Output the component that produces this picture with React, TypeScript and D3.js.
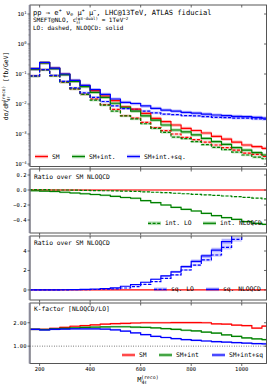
import React from 'react'
import * as d3 from 'd3'

const W = 272
const H = 388
const FONT = "'DejaVu Sans Mono', monospace"

// M4l bin edges (GeV)
const binEdges = [160, 200, 240, 280, 320, 360, 400, 440, 480, 520, 560, 600, 640, 680, 720, 760, 800, 840, 880, 920, 960, 1000, 1040, 1080, 1120]

// dsigma/dM [fb/GeV], NLOQCD (solid)
const smNLO = [0.148, 0.24, 0.155, 0.097, 0.059, 0.04, 0.028, 0.0185, 0.0129, 0.0081, 0.0067, 0.0049, 0.0033, 0.0026, 0.002, 0.00155, 0.00131, 0.00108, 0.00083, 0.00068, 0.00054, 0.00043, 0.00038, 0.00033]
const smIntNLO = [0.146, 0.236, 0.152, 0.095, 0.057, 0.0378, 0.0245, 0.0167, 0.0106, 0.0078, 0.0058, 0.004, 0.0029, 0.002, 0.00136, 0.00117, 0.00093, 0.00071, 0.00056, 0.00045, 0.00035, 0.00029, 0.00024, 0.0002]
const smIntSqNLO = [0.15, 0.242, 0.158, 0.1, 0.061, 0.042, 0.03, 0.021, 0.0147, 0.0114, 0.0104, 0.0086, 0.0072, 0.0063, 0.0058, 0.0053, 0.005, 0.0046, 0.0043, 0.0041, 0.0039, 0.0038, 0.0036, 0.0034]

// LO (dashed)
const smLO = [0.086, 0.14, 0.088, 0.054, 0.032, 0.021, 0.0147, 0.0095, 0.0066, 0.0041, 0.0034, 0.00245, 0.00165, 0.0013, 0.001, 0.00077, 0.00065, 0.00054, 0.00043, 0.00035, 0.00029, 0.00023, 0.00021, 0.00018]
const smIntLO = [0.085, 0.138, 0.087, 0.054, 0.032, 0.021, 0.0135, 0.0092, 0.0058, 0.004, 0.0032, 0.0022, 0.00155, 0.00114, 0.00079, 0.0007, 0.00056, 0.00044, 0.00036, 0.0003, 0.00025, 0.0002, 0.00017, 0.00015]
const smIntSqLO = [0.087, 0.141, 0.09, 0.057, 0.0345, 0.0236, 0.0167, 0.0121, 0.0086, 0.007, 0.0066, 0.0058, 0.0051, 0.0046, 0.0044, 0.0041, 0.004, 0.0038, 0.0036, 0.0035, 0.0034, 0.0034, 0.0032, 0.0031]

// ratio over SM NLOQCD: interference
const intNLORatio = [-0.01, -0.015, -0.02, -0.03, -0.04, -0.05, -0.06, -0.07, -0.085, -0.1, -0.11, -0.142, -0.169, -0.2, -0.231, -0.258, -0.28, -0.311, -0.342, -0.369, -0.391, -0.422, -0.444, -0.457]
const intLORatio = [0.005, 0.005, 0, 0, -0.002, -0.005, -0.007, -0.01, -0.012, -0.015, -0.018, -0.024, -0.03, -0.036, -0.043, -0.05, -0.057, -0.064, -0.072, -0.08, -0.089, -0.098, -0.108, -0.118]

// ratio over SM NLOQCD: squared
const sqNLORatio = [0, 0, 0.01, 0.02, 0.04, 0.07, 0.1, 0.15, 0.22, 0.38, 0.55, 0.79, 1.1, 1.44, 1.85, 2.39, 2.94, 3.49, 4.1, 4.96, 5.9, 6.6, 7.3, 8.2]
const sqLORatio = [0, 0, 0, 0.01, 0.02, 0.03, 0.05, 0.08, 0.12, 0.2, 0.34, 0.58, 0.85, 1.2, 1.54, 2.05, 2.56, 3.08, 3.59, 4.38, 5.2, 6.0, 6.9, 7.8]

// K-factors NLOQCD/LO
const kSM = [1.72, 1.72, 1.76, 1.8, 1.85, 1.88, 1.91, 1.94, 1.96, 1.97, 1.99, 2.0, 2.0, 2.0, 2.01, 2.01, 2.01, 2.0, 1.95, 1.94, 1.9, 1.88, 1.77, 1.86]
const kSMInt = [1.72, 1.71, 1.74, 1.76, 1.78, 1.8, 1.81, 1.82, 1.83, 1.83, 1.81, 1.8, 1.78, 1.75, 1.72, 1.68, 1.65, 1.6, 1.56, 1.48, 1.42, 1.35, 1.31, 1.28]
const kSMIntSq = [1.72, 1.69, 1.72, 1.73, 1.74, 1.74, 1.74, 1.73, 1.7, 1.64, 1.57, 1.49, 1.42, 1.37, 1.32, 1.28, 1.25, 1.22, 1.19, 1.17, 1.15, 1.13, 1.11, 1.1]

const xTicks = [200, 400, 600, 800, 1000]
const mainTicks = [1, 0, -1, -2, -3, -4]
const intTicks = [0.2, 0, -0.2, -0.4]
const sqTicks = [0, 2, 4]
const kTicks = [1, 2]

const RED = '#ff0000'
const GREEN = '#008000'
const BLUE = '#0000ff'
const RED_BAND = 'rgba(255,0,0,0.28)'
const GREEN_BAND = 'rgba(0,150,0,0.32)'
const BLUE_BAND = 'rgba(0,0,255,0.28)'
const DASH = '3,1.6'

const PL = 30
const PR = 266.5
const P = {
  main: { top: 5, bottom: 166.5 },
  int: { top: 169, bottom: 233 },
  sq: { top: 236, bottom: 300 },
  kf: { top: 303, bottom: 363.5 },
}

const x = d3.scaleLinear().domain([162, 1098]).range([PL, PR])
const yMain = d3.scaleLog().domain([Math.pow(10, -4.083), Math.pow(10, 1.3)]).range([P.main.bottom, P.main.top])
const yInt = d3.scaleLinear().domain([-0.573, 0.28]).range([P.int.bottom, P.int.top])
const ySq = d3.scaleLinear().domain([-1.03, 5.54]).range([P.sq.bottom, P.sq.top])
const yK = d3.scaleLinear().domain([0.258, 2.845]).range([P.kf.bottom, P.kf.top])

const stepPts = (vals: number[]) => [
  ...vals.map((v, i) => [binEdges[i], v]),
  [binEdges[vals.length], vals[vals.length - 1]],
]

const stepPath = (vals: number[], ys: any) =>
  d3.line<number[]>().x(d => x(d[0])).y(d => ys(d[1])).curve(d3.curveStepAfter)(stepPts(vals)) || ''

const bandPath = (vals: number[], ys: any, lo: (v: number) => number, hi: (v: number) => number) =>
  d3.area<number[]>()
    .x(d => x(d[0]))
    .y0(d => ys(lo(d[1])))
    .y1(d => ys(hi(d[1])))
    .curve(d3.curveStepAfter)(stepPts(vals)) || ''

type Seg = [string, string?, boolean?]

// text with super/subscripts, monospace so widths are predictable
function Rich({ x0, y0, size, segs, anchor = 'start', transform }: any) {
  let cur = 0
  let prevW = 0
  return (
    <text x={x0} y={y0} fontSize={size} fontFamily={FONT} textAnchor={anchor} transform={transform} fill="#000">
      {segs.map(([t, k, back]: Seg, i: number) => {
        const fs = k ? size * 0.7 : size
        const target = k === 'sup' ? -size * 0.4 : k === 'sub' ? size * 0.25 : 0
        const dy = target - cur
        cur = target
        const dx = back ? -prevW : 0
        prevW = t.length * 0.602 * fs
        return (
          <tspan key={i} dy={dy} dx={dx} fontSize={fs}>{t}</tspan>
        )
      })}
    </text>
  )
}

function LegendItem({ x0, y, color, band, dash, label }: any) {
  return (
    <g>
      <rect x={x0} y={y - 1.8} width={13} height={3.6} fill={band} />
      <line x1={x0} x2={x0 + 13} y1={y} y2={y} stroke={color} strokeWidth={1.2} strokeDasharray={dash} />
      <text x={x0 + 17} y={y + 2} fontSize={6.3} fontFamily={FONT}>{label}</text>
    </g>
  )
}

function Frame({ top, bottom, yTicks }: any) {
  return (
    <g>
      <rect x={PL} y={top} width={PR - PL} height={bottom - top} fill="none" stroke="#444" strokeWidth={0.9} />
      <line x1={PL - 0.4} x2={PL - 0.4} y1={top} y2={bottom} stroke="#8a8a99" strokeWidth={1.8} />
      {xTicks.map(t => (
        <g key={t}>
          <line x1={x(t)} x2={x(t)} y1={bottom} y2={bottom + 2.5} stroke="#444" strokeWidth={0.8} />
          <line x1={x(t)} x2={x(t)} y1={top} y2={top + 2.5} stroke="#444" strokeWidth={0.8} />
        </g>
      ))}
      {yTicks.map((yy: number, i: number) => (
        <g key={i}>
          <line x1={PL - 2.5} x2={PL} y1={yy} y2={yy} stroke="#444" strokeWidth={0.8} />
          <line x1={PR - 2.5} x2={PR} y1={yy} y2={yy} stroke="#444" strokeWidth={0.8} />
        </g>
      ))}
    </g>
  )
}

const fmtSigned = (v: number, d: number) => (v < 0 ? '\u2212' : '') + Math.abs(v).toFixed(d)

export default function App() {
  const minor: number[] = []
  for (let e = -5; e <= 1; e++) {
    for (let m = 2; m <= 9; m++) {
      const v = m * Math.pow(10, e)
      if (v > yMain.domain()[0] && v < yMain.domain()[1]) minor.push(v)
    }
  }

  const mainSeries = [
    { nlo: smNLO, lo: smLO, color: RED, band: RED_BAND },
    { nlo: smIntNLO, lo: smIntLO, color: GREEN, band: GREEN_BAND },
    { nlo: smIntSqNLO, lo: smIntSqLO, color: BLUE, band: BLUE_BAND },
  ]

  return (
    <svg width={W} height={H} style={{ position: 'absolute', left: 0, top: 0, background: '#fff' }}>
      <defs>
        {Object.entries(P).map(([k, p]) => (
          <clipPath id={'clip-' + k} key={k}>
            <rect x={PL} y={p.top} width={PR - PL} height={p.bottom - p.top} />
          </clipPath>
        ))}
      </defs>

      {/* main panel */}
      <g clipPath="url(#clip-main)">
        {mainSeries.map((s, i) => (
          <g key={'b' + i}>
            <path d={bandPath(s.nlo, yMain, v => v * 0.88, v => v * 1.13)} fill={s.band} />
            <path d={bandPath(s.lo, yMain, v => v * 0.9, v => v * 1.1)} fill={s.band} opacity={0.7} />
          </g>
        ))}
        {mainSeries.map((s, i) => (
          <path key={'lo' + i} d={stepPath(s.lo, yMain)} fill="none" stroke={s.color} strokeWidth={1.2} strokeDasharray={DASH} />
        ))}
        {mainSeries.map((s, i) => (
          <path key={'nlo' + i} d={stepPath(s.nlo, yMain)} fill="none" stroke={s.color} strokeWidth={1.2} />
        ))}
      </g>
      <Frame top={P.main.top} bottom={P.main.bottom} yTicks={mainTicks.map(e => yMain(Math.pow(10, e)))} />
      {minor.map((v, i) => (
        <line key={i} x1={PL - 1.5} x2={PL} y1={yMain(v)} y2={yMain(v)} stroke="#666" strokeWidth={0.6} />
      ))}
      {mainTicks.map(e => (
        <Rich key={e} x0={26.5} y0={yMain(Math.pow(10, e)) + 2} size={5.5} anchor="end"
          segs={[['10'], [e < 0 ? '\u2212' + Math.abs(e) : String(e), 'sup']]} />
      ))}
      <Rich x0={33} y0={14.5} size={7.1} segs={[
        ['pp \u2192 e'], ['+', 'sup'], [' \u03bd'], ['e', 'sub'], [' \u03bc'], ['+', 'sup'], [' \u03bc'], ['\u2212', 'sup'],
        [', LHC@13TeV, ATLAS fiducial'],
      ]} />
      <Rich x0={33} y0={22} size={6} segs={[
        ['SMEFT@NLO, c'], ['\u2113\u2113', 'sub'], ['(\u03c63-dual)', 'sup', true], [' = 1TeV'], ['\u22122', 'sup'],
      ]} />
      <Rich x0={33} y0={30} size={6} segs={[['LO: dashed, NLOQCD: solid']]} />
      <LegendItem x0={35} y={156.5} color={RED} band={RED_BAND} label="SM" />
      <LegendItem x0={72} y={156.5} color={GREEN} band={GREEN_BAND} label="SM+int." />
      <LegendItem x0={127} y={156.5} color={BLUE} band={BLUE_BAND} label="SM+int.+sq." />
      <Rich x0={8} y0={86} size={6.3} anchor="middle" transform="rotate(-90 8 86)" segs={[
        ['d\u03c3/dM'], ['4\u2113', 'sub'], ['(reco)', 'sup', true], [' [fb/GeV]'],
      ]} />

      {/* interference ratio panel */}
      <g clipPath="url(#clip-int)">
        <path d={bandPath(intNLORatio.map(() => 0), yInt, v => v - 0.008, v => v + 0.008)} fill={RED_BAND} />
        <path d={bandPath(intNLORatio, yInt, v => v - 0.012, v => v + 0.012)} fill={GREEN_BAND} />
        <path d={bandPath(intLORatio, yInt, v => v - 0.006, v => v + 0.006)} fill={GREEN_BAND} opacity={0.7} />
        <line x1={PL} x2={PR} y1={yInt(0)} y2={yInt(0)} stroke={RED} strokeWidth={1.2} />
        <path d={stepPath(intLORatio, yInt)} fill="none" stroke={GREEN} strokeWidth={1.2} strokeDasharray={DASH} />
        <path d={stepPath(intNLORatio, yInt)} fill="none" stroke={GREEN} strokeWidth={1.2} />
      </g>
      <Frame top={P.int.top} bottom={P.int.bottom} yTicks={intTicks.map(v => yInt(v))} />
      {intTicks.map(v => (
        <text key={v} x={26.5} y={yInt(v) + 2} fontSize={5.5} fontFamily={FONT} textAnchor="end">{fmtSigned(v, 1)}</text>
      ))}
      <text x={34} y={178.5} fontSize={6.3} fontFamily={FONT}>Ratio over SM NLOQCD</text>
      <LegendItem x0={148} y={223.3} color={GREEN} band={GREEN_BAND} dash={DASH} label="int. LO" />
      <LegendItem x0={203} y={223.3} color={GREEN} band={GREEN_BAND} label="int. NLOQCD" />

      {/* squared ratio panel */}
      <g clipPath="url(#clip-sq)">
        <path d={bandPath(sqNLORatio, ySq, v => v * 0.94, v => v * 1.06)} fill={BLUE_BAND} />
        <path d={bandPath(sqLORatio, ySq, v => v * 0.95, v => v * 1.05)} fill={BLUE_BAND} opacity={0.7} />
        <line x1={PL} x2={PR} y1={ySq(0)} y2={ySq(0)} stroke={RED} strokeWidth={1.2} />
        <path d={stepPath(sqLORatio, ySq)} fill="none" stroke={BLUE} strokeWidth={1.2} strokeDasharray={DASH} />
        <path d={stepPath(sqNLORatio, ySq)} fill="none" stroke={BLUE} strokeWidth={1.2} />
      </g>
      <Frame top={P.sq.top} bottom={P.sq.bottom} yTicks={sqTicks.map(v => ySq(v))} />
      {sqTicks.map(v => (
        <text key={v} x={26.5} y={ySq(v) + 2} fontSize={5.5} fontFamily={FONT} textAnchor="end">{v}</text>
      ))}
      <text x={34} y={245} fontSize={6.3} fontFamily={FONT}>Ratio over SM NLOQCD</text>
      <LegendItem x0={154} y={289.3} color={BLUE} band={BLUE_BAND} dash={DASH} label="sq. LO" />
      <LegendItem x0={206} y={289.3} color={BLUE} band={BLUE_BAND} label="sq. NLOQCD" />

      {/* K-factor panel */}
      <g clipPath="url(#clip-kf)">
        <line x1={PL} x2={PR} y1={yK(1)} y2={yK(1)} stroke="#333" strokeWidth={0.8} strokeDasharray="0.8,1.6" />
        {[
          { k: kSM, band: RED_BAND, color: RED },
          { k: kSMInt, band: GREEN_BAND, color: GREEN },
          { k: kSMIntSq, band: BLUE_BAND, color: BLUE },
        ].map((s, i) => (
          <g key={i}>
            <path d={bandPath(s.k, yK, v => v - 0.04, v => v + 0.04)} fill={s.band} />
            <path d={stepPath(s.k, yK)} fill="none" stroke={s.color} strokeWidth={1.2} />
          </g>
        ))}
      </g>
      <Frame top={P.kf.top} bottom={P.kf.bottom} yTicks={kTicks.map(v => yK(v))} />
      {kTicks.map(v => (
        <text key={v} x={26.5} y={yK(v) + 2} fontSize={5.5} fontFamily={FONT} textAnchor="end">{v.toFixed(2)}</text>
      ))}
      <text x={34} y={311} fontSize={6.3} fontFamily={FONT}>K-factor [NLOQCD/LO]</text>
      <LegendItem x0={122} y={355} color={RED} band={RED_BAND} label="SM" />
      <LegendItem x0={159} y={355} color={GREEN} band={GREEN_BAND} label="SM+int" />
      <LegendItem x0={212} y={355} color={BLUE} band={BLUE_BAND} label="SM+int+sq" />

      {xTicks.map(t => (
        <text key={t} x={x(t)} y={371} fontSize={5.5} fontFamily={FONT} textAnchor="middle">{t}</text>
      ))}
      <Rich x0={148} y0={382} size={7} anchor="middle" segs={[
        ['M'], ['4\u2113', 'sub'], ['(reco)', 'sup', true],
      ]} />
    </svg>
  )
}
